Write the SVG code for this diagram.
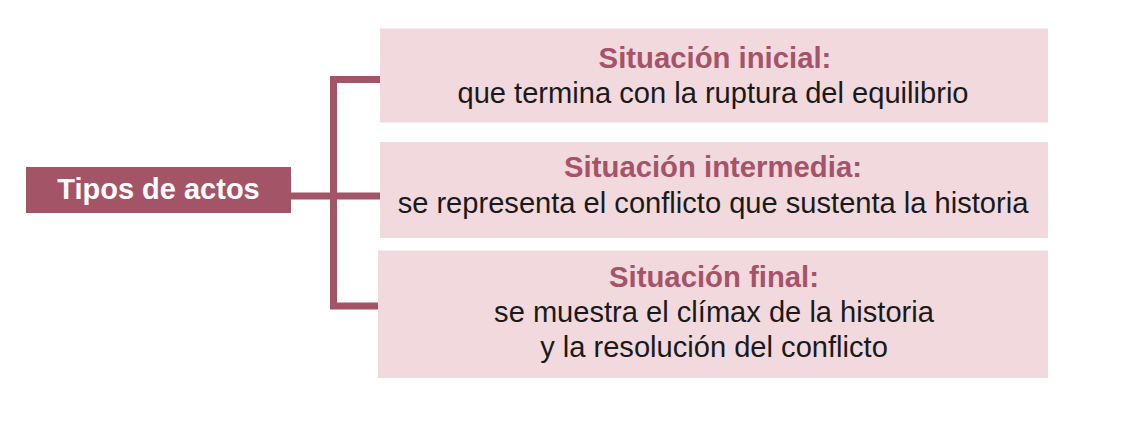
<svg xmlns="http://www.w3.org/2000/svg" width="1128" height="436" viewBox="0 0 1128 436">
<style>
.box{fill:#f1d9dd}
.root{fill:#a35467}
.conn{fill:none;stroke:#a35467;stroke-width:7}
.ttl{font-family:"Liberation Sans",Arial,sans-serif;font-weight:bold;font-size:29.3px;fill:#a6536a;text-anchor:middle}
.txt{font-family:"Liberation Sans",Arial,sans-serif;font-size:29.1px;fill:#1a1a1a;text-anchor:middle}
.rt{font-family:"Liberation Sans",Arial,sans-serif;font-weight:bold;font-size:29px;fill:#ffffff;text-anchor:middle}
</style>
<rect width="1128" height="436" fill="#ffffff"/>
<g id="connectors">
<polyline class="conn" points="380,79.5 333.5,79.5 333.5,306 378,306"/>
<line class="conn" x1="290" y1="196" x2="381" y2="196"/>
</g>
<g id="root">
<rect class="root" x="26" y="167" width="265" height="46"/>
<text class="rt" x="158.5" y="198.5">Tipos de actos</text>
</g>
<g id="inicial">
<rect class="box" x="380" y="28.5" width="668" height="94"/>
<text class="ttl" x="715" y="68">Situación inicial:</text>
<text class="txt" x="713" y="103">que termina con la ruptura del equilibrio</text>
</g>
<g id="intermedia">
<rect class="box" x="380" y="142" width="668" height="96"/>
<text class="ttl" x="713" y="176.5">Situación intermedia:</text>
<text class="txt" x="713" y="213">se representa el conflicto que sustenta la historia</text>
</g>
<g id="final">
<rect class="box" x="378" y="250.5" width="670" height="127.5"/>
<text class="ttl" x="714" y="286.5">Situación final:</text>
<text class="txt" x="714" y="321.5">se muestra el clímax de la historia</text>
<text class="txt" x="714" y="356.5">y la resolución del conflicto</text>
</g>
</svg>
